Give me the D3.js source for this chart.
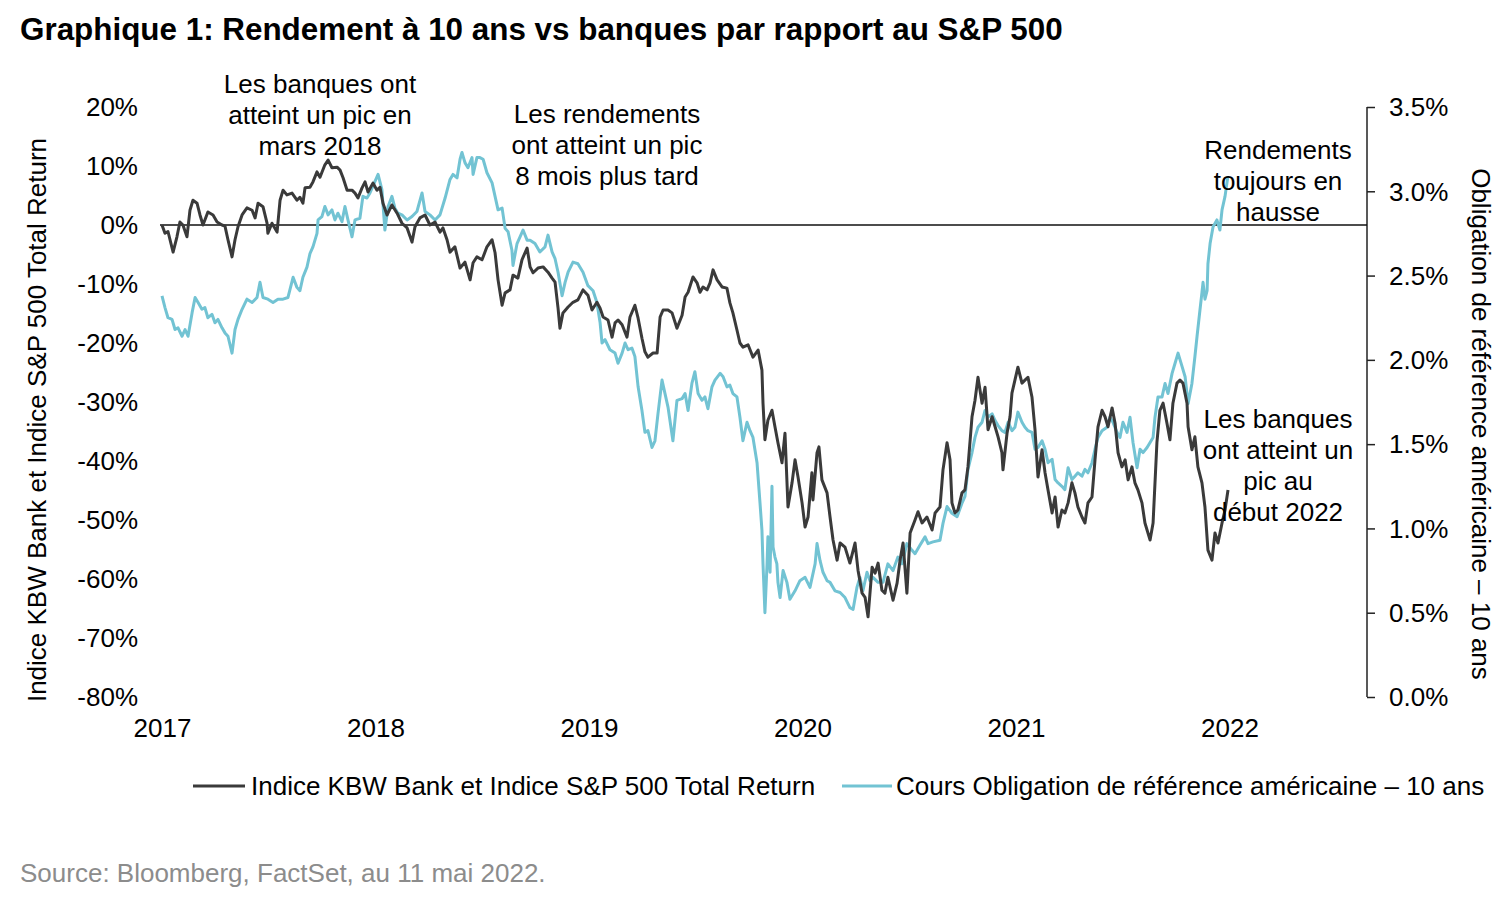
<!DOCTYPE html>
<html>
<head>
<meta charset="utf-8">
<script src="https://cdn.jsdelivr.net/npm/d3@7/dist/d3.min.js"></script>
<style>
  html, body { margin: 0; padding: 0; background: #ffffff; }
  svg { display: block; }
  text { font-family: "Liberation Sans", Arial, Helvetica, sans-serif; fill: #000; }
</style>
</head>
<body>
<svg id="chart" width="1500" height="903"></svg>
<script>
// ---------------- DATA ----------------
const titleText = "Graphique 1: Rendement à 10 ans vs banques par rapport au S&P 500";
const sourceText = "Source: Bloomberg, FactSet, au 11 mai 2022.";
const leftAxisTitle = "Indice KBW Bank et Indice S&P 500 Total Return";
const rightAxisTitle = "Obligation de référence américaine – 10 ans";
const seriesNames = ["Indice KBW Bank et Indice S&P 500 Total Return", "Cours Obligation de référence américaine – 10 ans"];

const xTickYears = [2017, 2018, 2019, 2020, 2021, 2022];
const leftTicks = [20, 10, 0, -10, -20, -30, -40, -50, -60, -70, -80];
const rightTicks = [3.5, 3.0, 2.5, 2.0, 1.5, 1.0, 0.5, 0.0];

// KBW Bank vs S&P 500 relative total return (%) — decimal year, value
const kbwYears = [2017.000,2017.014,2017.028,2017.052,2017.070,2017.084,2017.098,2017.117,2017.131,2017.145,2017.164,2017.178,2017.192,2017.215,2017.239,2017.258,2017.281,2017.295,2017.309,2017.328,2017.342,2017.356,2017.375,2017.398,2017.422,2017.436,2017.450,2017.473,2017.492,2017.496,2017.515,2017.539,2017.553,2017.567,2017.585,2017.609,2017.632,2017.646,2017.660,2017.670,2017.693,2017.707,2017.726,2017.740,2017.763,2017.778,2017.796,2017.820,2017.834,2017.848,2017.867,2017.890,2017.904,2017.918,2017.937,2017.951,2017.965,2017.988,2018.007,2018.021,2018.035,2018.054,2018.077,2018.101,2018.124,2018.148,2018.171,2018.185,2018.208,2018.232,2018.255,2018.279,2018.302,2018.316,2018.335,2018.349,2018.372,2018.396,2018.419,2018.443,2018.457,2018.475,2018.499,2018.522,2018.546,2018.560,2018.574,2018.593,2018.607,2018.630,2018.644,2018.667,2018.686,2018.710,2018.724,2018.738,2018.761,2018.785,2018.808,2018.827,2018.841,2018.855,2018.864,2018.878,2018.902,2018.925,2018.948,2018.972,2018.995,2019.014,2019.037,2019.052,2019.066,2019.089,2019.108,2019.122,2019.136,2019.155,2019.178,2019.192,2019.215,2019.230,2019.248,2019.262,2019.276,2019.300,2019.319,2019.333,2019.347,2019.370,2019.389,2019.412,2019.436,2019.450,2019.464,2019.487,2019.506,2019.520,2019.534,2019.553,2019.567,2019.581,2019.600,2019.623,2019.646,2019.660,2019.674,2019.693,2019.707,2019.721,2019.745,2019.768,2019.792,2019.810,2019.815,2019.824,2019.838,2019.857,2019.871,2019.885,2019.904,2019.918,2019.932,2019.951,2019.965,2019.979,2019.998,2020.012,2020.026,2020.044,2020.049,2020.068,2020.077,2020.091,2020.115,2020.129,2020.143,2020.162,2020.176,2020.199,2020.222,2020.246,2020.260,2020.279,2020.293,2020.307,2020.326,2020.340,2020.354,2020.372,2020.386,2020.400,2020.424,2020.443,2020.457,2020.471,2020.489,2020.504,2020.527,2020.541,2020.560,2020.583,2020.607,2020.621,2020.644,2020.658,2020.677,2020.691,2020.700,2020.714,2020.728,2020.747,2020.761,2020.775,2020.794,2020.808,2020.822,2020.841,2020.855,2020.869,2020.888,2020.902,2020.916,2020.934,2020.939,2020.958,2020.972,2020.981,2020.995,2021.009,2021.028,2021.042,2021.056,2021.075,2021.089,2021.103,2021.122,2021.136,2021.150,2021.169,2021.183,2021.197,2021.215,2021.229,2021.244,2021.262,2021.276,2021.290,2021.309,2021.323,2021.337,2021.356,2021.370,2021.384,2021.403,2021.417,2021.431,2021.450,2021.464,2021.478,2021.496,2021.511,2021.525,2021.543,2021.557,2021.571,2021.590,2021.604,2021.628,2021.642,2021.651,2021.660,2021.674,2021.689,2021.707,2021.721,2021.735,2021.754,2021.768,2021.782,2021.801,2021.806,2021.824,2021.838,2021.852,2021.871,2021.885,2021.899,2021.918,2021.932,2021.946,2021.965,2021.979,2021.993];
const kbwValues = [0.0,-1.4,-1.1,-4.6,-2.0,0.5,0.0,-2.0,2.5,4.2,3.7,1.7,0.0,2.2,1.7,0.5,0.0,-0.2,-2.5,-5.4,-2.5,-0.3,1.7,2.9,2.5,1.2,3.7,3.1,0.3,-1.4,0.3,-1.2,4.2,5.9,5.1,5.4,4.2,4.7,3.7,6.3,6.4,7.3,9.0,8.1,10.2,11.0,9.7,9.8,9.3,8.0,5.9,5.9,5.4,4.6,6.3,7.3,5.6,7.1,5.9,6.4,3.7,1.7,3.4,2.0,0.3,-0.5,-2.9,-0.3,1.2,1.7,0.0,0.5,-1.2,-0.5,-2.5,-4.6,-3.7,-7.3,-6.3,-9.3,-6.4,-5.4,-5.9,-3.7,-2.5,-4.7,-9.3,-13.6,-11.5,-11.0,-8.5,-9.0,-5.9,-3.9,-7.1,-8.1,-7.3,-7.1,-8.0,-9.0,-9.7,-14.1,-17.5,-14.9,-13.9,-13.1,-12.7,-11.0,-11.9,-14.4,-13.1,-14.1,-15.6,-16.1,-19.0,-16.6,-16.1,-16.9,-19.0,-15.6,-13.6,-15.8,-19.2,-21.5,-22.4,-21.7,-21.7,-15.6,-14.4,-14.4,-14.9,-17.5,-15.3,-12.2,-11.4,-8.8,-9.8,-11.4,-10.5,-11.0,-9.8,-7.6,-9.3,-10.5,-10.7,-13.2,-14.9,-17.8,-20.0,-20.7,-20.3,-22.4,-21.2,-24.6,-30.2,-36.4,-33.1,-31.4,-34.2,-36.9,-40.3,-35.3,-47.8,-43.7,-39.8,-42.7,-47.1,-51.2,-49.5,-42.0,-46.6,-38.6,-37.6,-43.2,-45.4,-49.5,-53.4,-56.8,-53.9,-54.6,-57.3,-53.9,-58.5,-62.4,-63.1,-66.4,-58.0,-59.0,-57.3,-61.9,-62.4,-59.7,-63.6,-60.7,-56.8,-53.9,-62.4,-52.2,-50.0,-48.6,-50.5,-49.5,-51.7,-48.8,-47.8,-41.5,-36.9,-39.8,-47.1,-48.8,-48.3,-45.4,-44.9,-41.0,-32.5,-29.7,-25.8,-30.2,-27.5,-34.7,-32.5,-34.2,-35.9,-38.6,-41.5,-35.3,-32.5,-28.5,-26.3,-24.1,-26.8,-26.3,-25.8,-29.2,-34.7,-42.7,-38.1,-42.0,-44.9,-48.8,-46.1,-51.2,-48.3,-48.8,-47.1,-43.7,-45.4,-47.8,-49.5,-50.5,-47.1,-46.1,-39.8,-34.2,-31.4,-32.5,-34.2,-31.0,-33.6,-38.6,-41.0,-39.8,-43.2,-41.0,-43.7,-44.9,-47.1,-50.5,-53.4,-50.5,-43.7,-36.9,-31.4,-30.2,-33.6,-36.4,-30.2,-26.8,-26.3,-26.8,-30.2,-34.2,-38.1,-35.9,-41.0,-43.7,-47.8,-55.1,-56.8,-52.2,-53.9,-50.5,-48.3,-44.9];

// US 10-year Treasury yield (%) — decimal year, value
const yieldYears = [2017.000,2017.014,2017.028,2017.047,2017.061,2017.075,2017.094,2017.108,2017.122,2017.141,2017.155,2017.169,2017.187,2017.201,2017.215,2017.234,2017.248,2017.262,2017.281,2017.295,2017.309,2017.328,2017.342,2017.356,2017.375,2017.398,2017.422,2017.445,2017.459,2017.473,2017.496,2017.520,2017.543,2017.567,2017.590,2017.614,2017.632,2017.646,2017.660,2017.679,2017.693,2017.707,2017.726,2017.731,2017.749,2017.763,2017.778,2017.796,2017.810,2017.824,2017.843,2017.857,2017.871,2017.890,2017.904,2017.927,2017.941,2017.960,2017.974,2017.988,2018.012,2018.030,2018.044,2018.059,2018.077,2018.091,2018.105,2018.124,2018.148,2018.171,2018.194,2018.218,2018.232,2018.255,2018.279,2018.302,2018.326,2018.349,2018.363,2018.382,2018.396,2018.405,2018.419,2018.433,2018.452,2018.457,2018.475,2018.489,2018.504,2018.522,2018.546,2018.560,2018.574,2018.593,2018.607,2018.621,2018.639,2018.644,2018.663,2018.677,2018.691,2018.710,2018.724,2018.747,2018.770,2018.794,2018.808,2018.827,2018.841,2018.855,2018.874,2018.888,2018.902,2018.925,2018.948,2018.972,2018.995,2019.019,2019.037,2019.052,2019.061,2019.075,2019.098,2019.122,2019.136,2019.155,2019.169,2019.183,2019.201,2019.215,2019.230,2019.248,2019.262,2019.276,2019.295,2019.309,2019.323,2019.342,2019.356,2019.370,2019.393,2019.412,2019.436,2019.450,2019.464,2019.482,2019.496,2019.511,2019.529,2019.543,2019.557,2019.576,2019.590,2019.614,2019.628,2019.646,2019.660,2019.674,2019.693,2019.707,2019.721,2019.740,2019.754,2019.768,2019.787,2019.801,2019.810,2019.815,2019.824,2019.834,2019.838,2019.848,2019.857,2019.862,2019.871,2019.880,2019.885,2019.895,2019.909,2019.927,2019.941,2019.965,2019.988,2020.012,2020.035,2020.059,2020.068,2020.082,2020.096,2020.115,2020.129,2020.152,2020.176,2020.199,2020.222,2020.237,2020.255,2020.269,2020.283,2020.302,2020.316,2020.330,2020.354,2020.377,2020.400,2020.424,2020.447,2020.466,2020.489,2020.513,2020.527,2020.550,2020.574,2020.588,2020.611,2020.644,2020.658,2020.677,2020.700,2020.724,2020.747,2020.761,2020.775,2020.794,2020.808,2020.822,2020.841,2020.855,2020.869,2020.888,2020.902,2020.916,2020.934,2020.948,2020.963,2020.981,2020.995,2021.009,2021.028,2021.042,2021.056,2021.075,2021.089,2021.103,2021.122,2021.136,2021.150,2021.169,2021.183,2021.197,2021.215,2021.229,2021.244,2021.262,2021.276,2021.290,2021.309,2021.323,2021.337,2021.356,2021.370,2021.384,2021.403,2021.426,2021.440,2021.454,2021.473,2021.487,2021.501,2021.520,2021.534,2021.548,2021.567,2021.581,2021.595,2021.614,2021.628,2021.642,2021.651,2021.665,2021.684,2021.698,2021.712,2021.731,2021.745,2021.759,2021.778,2021.792,2021.806,2021.824,2021.838,2021.848,2021.862,2021.871,2021.876,2021.885,2021.895,2021.899,2021.909,2021.923,2021.941,2021.955,2021.965,2021.979,2021.988,2021.993];
const yieldValues = [2.38,2.31,2.25,2.24,2.18,2.19,2.14,2.18,2.14,2.28,2.37,2.34,2.30,2.31,2.25,2.27,2.22,2.24,2.19,2.16,2.14,2.04,2.18,2.24,2.30,2.36,2.34,2.37,2.46,2.37,2.36,2.34,2.36,2.36,2.37,2.49,2.43,2.41,2.49,2.55,2.63,2.67,2.75,2.83,2.85,2.91,2.86,2.89,2.83,2.87,2.82,2.91,2.83,2.73,2.83,2.84,2.97,2.96,2.99,3.03,3.10,3.01,2.77,2.91,2.97,2.90,2.87,2.86,2.83,2.85,2.88,2.99,2.88,2.86,2.83,2.86,2.96,3.07,3.10,3.08,3.19,3.23,3.17,3.14,3.20,3.10,3.20,3.20,3.19,3.11,3.05,2.97,2.89,2.90,2.78,2.76,2.65,2.56,2.69,2.73,2.77,2.71,2.71,2.69,2.64,2.67,2.74,2.64,2.60,2.52,2.38,2.46,2.52,2.58,2.57,2.52,2.44,2.41,2.34,2.22,2.10,2.12,2.06,2.04,1.98,2.04,2.10,2.06,2.07,2.02,1.84,1.70,1.57,1.58,1.48,1.52,1.68,1.88,1.80,1.72,1.52,1.76,1.77,1.80,1.70,1.86,1.93,1.80,1.76,1.78,1.71,1.84,1.88,1.92,1.90,1.84,1.85,1.80,1.78,1.66,1.52,1.63,1.58,1.54,1.39,1.15,0.99,0.79,0.50,0.79,0.95,0.74,1.25,0.89,0.83,0.79,0.68,0.59,0.75,0.68,0.58,0.63,0.69,0.71,0.65,0.79,0.91,0.81,0.74,0.69,0.68,0.63,0.62,0.59,0.53,0.52,0.65,0.71,0.63,0.74,0.69,0.71,0.68,0.68,0.79,0.75,0.83,0.79,0.91,0.87,0.85,0.90,0.95,0.91,0.92,0.93,1.03,1.13,1.09,1.07,1.15,1.19,1.35,1.45,1.54,1.60,1.63,1.70,1.66,1.68,1.64,1.61,1.58,1.57,1.63,1.58,1.60,1.69,1.63,1.60,1.58,1.57,1.47,1.48,1.52,1.47,1.39,1.41,1.29,1.27,1.25,1.23,1.36,1.29,1.31,1.33,1.31,1.35,1.33,1.39,1.47,1.54,1.58,1.60,1.66,1.63,1.57,1.54,1.63,1.57,1.66,1.51,1.36,1.47,1.45,1.48,1.51,1.54,1.66,1.78,1.78,1.86,1.80,1.92,1.98,2.04,1.96,1.90,1.74,1.86,2.02,2.14,2.30,2.40,2.46,2.36,2.41,2.57,2.69,2.79,2.83,2.77,2.89,2.97,3.05,3.09];

const annotationLines = [
  ["Les banques ont", "atteint un pic en", "mars 2018"],
  ["Les rendements", "ont atteint un pic", "8 mois plus tard"],
  ["Rendements", "toujours en", "hausse"],
  ["Les banques", "ont atteint un", "pic au", "début 2022"]
];

// ---------------- CHART ----------------
const colors = { kbw: "#3a3a3a", yield: "#72c3d3" };
const svg = d3.select("#chart");
const plot = { left: 162, right: 1367, top: 107, bottom: 697 };
const FS = 26;
const FONT = '"Liberation Sans", Arial, sans-serif';

const x = d3.scaleLinear().domain([2017, 2022.644]).range([plot.left, plot.right]);
const yL = d3.scaleLinear().domain([-80, 20]).range([plot.bottom, plot.top]);
const yR = d3.scaleLinear().domain([0, 3.5]).range([plot.bottom, plot.top]);

// Title
svg.append("text").attr("x", 20).attr("y", 40)
  .attr("font-size", 31.4).attr("font-weight", "bold").text(titleText);

// Left axis (labels only)
const leftAxis = d3.axisLeft(yL).tickValues(leftTicks).tickSize(0).tickPadding(0)
  .tickFormat(d => d + "%");
const gL = svg.append("g").attr("transform", `translate(${138},0)`).call(leftAxis);
gL.select(".domain").remove();
gL.selectAll("text").attr("font-size", FS).attr("fill", "#000")
  .style("font-family", FONT).attr("dy", "0.34em").attr("x", 0);

// Right axis
const rightAxis = d3.axisRight(yR).tickValues(rightTicks).tickSize(8).tickPadding(14)
  .tickFormat(d => d3.format(".1f")(d) + "%");
const gR = svg.append("g").attr("transform", `translate(${plot.right},0)`).call(rightAxis);
gR.select(".domain").attr("stroke", "#222").attr("stroke-width", 1.5).attr("d", `M0,${plot.top}V${plot.bottom}`);
gR.selectAll(".tick line").attr("stroke", "#222").attr("stroke-width", 1.5);
gR.selectAll("text").attr("font-size", FS).attr("fill", "#000")
  .style("font-family", FONT).attr("dy", "0.34em");

// X axis (labels only)
const xAxis = d3.axisBottom(x).tickValues(xTickYears).tickSize(0).tickPadding(0).tickFormat(d3.format("d"));
const gX = svg.append("g").attr("transform", `translate(0,${728})`).call(xAxis);
gX.select(".domain").remove();
gX.selectAll("text").attr("font-size", FS).attr("fill", "#000")
  .style("font-family", FONT).attr("dy", "0.34em").attr("y", 0);

// Zero line
svg.append("line")
  .attr("x1", plot.left - 2).attr("x2", plot.right)
  .attr("y1", yL(0)).attr("y2", yL(0))
  .attr("stroke", "#111").attr("stroke-width", 1.6);

// Series
const yieldData = yieldYears.map((t, i) => [t, yieldValues[i]]);
const kbwData = kbwYears.map((t, i) => [t, kbwValues[i]]);

svg.append("path").datum(yieldData)
  .attr("fill", "none").attr("stroke", colors.yield).attr("stroke-width", 3)
  .attr("stroke-linejoin", "round")
  .attr("d", d3.line().x(d => x(d[0])).y(d => yR(d[1])));

svg.append("path").datum(kbwData)
  .attr("fill", "none").attr("stroke", colors.kbw).attr("stroke-width", 3)
  .attr("stroke-linejoin", "round")
  .attr("d", d3.line().x(d => x(d[0])).y(d => yL(d[1])));

// Axis titles
svg.append("text")
  .attr("transform", `translate(46,420) rotate(-90)`)
  .attr("text-anchor", "middle").attr("font-size", FS).text(leftAxisTitle);
svg.append("text")
  .attr("transform", `translate(1472,424) rotate(90)`)
  .attr("text-anchor", "middle").attr("font-size", FS).text(rightAxisTitle);

// Annotations
const annPos = [
  { cx: 320, cy: 84 },
  { cx: 607, cy: 114 },
  { cx: 1278, cy: 150 },
  { cx: 1278, cy: 419 }
];
annotationLines.forEach((lines, i) => {
  const t = svg.append("text").attr("text-anchor", "middle").attr("font-size", FS);
  lines.forEach((ln, j) => {
    t.append("tspan").attr("x", annPos[i].cx).attr("y", annPos[i].cy + j * 31 + 9).text(ln);
  });
});

// Legend
const legendY = 786;
const legendItems = [
  { x1: 193, x2: 245, tx: 251, color: colors.kbw, label: seriesNames[0] },
  { x1: 842, x2: 892, tx: 896, color: colors.yield, label: seriesNames[1] }
];
legendItems.forEach(it => {
  svg.append("line").attr("x1", it.x1).attr("x2", it.x2).attr("y1", legendY).attr("y2", legendY)
    .attr("stroke", it.color).attr("stroke-width", 3);
  svg.append("text").attr("x", it.tx).attr("y", legendY + 9).attr("font-size", FS).text(it.label);
});

// Source
svg.append("text").attr("x", 20).attr("y", 882).attr("font-size", FS)
  .style("fill", "#8c8c8c").text(sourceText);
</script>
</body>
</html>
